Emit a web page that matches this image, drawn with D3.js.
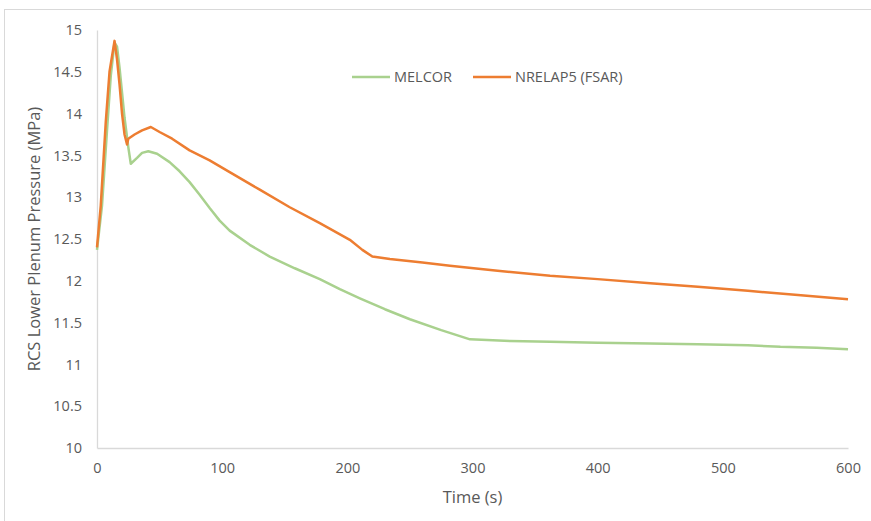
<!DOCTYPE html>
<html>
<head>
<meta charset="utf-8">
<script src="https://cdn.jsdelivr.net/npm/d3@7"></script>
<style>
  body { margin: 0; background: #fff; }
  text { font-family: "Open Sans", "Liberation Sans", sans-serif; fill: #595959; }
</style>
</head>
<body>
<div id="chart"></div>
<script>
// Chart area
var svgWidth = 871;
var svgHeight = 521;
var chartMargin = { top: 30, right: 23, bottom: 73, left: 97 };
var chartWidth = svgWidth - chartMargin.left - chartMargin.right;
var chartHeight = svgHeight - chartMargin.top - chartMargin.bottom;

// Data (time in s, pressure in MPa)
var melcorTime = [0, 4, 8, 11, 14, 16, 18, 20, 22, 25, 27, 32, 36, 41, 48, 58, 66, 74, 82, 90, 98, 106, 122, 138, 158, 178, 194, 210, 230, 250, 275, 298, 330, 362, 400, 442, 480, 520, 546, 575, 600];
var melcorP = [12.37, 12.9, 13.8, 14.45, 14.85, 14.8, 14.55, 14.25, 13.95, 13.6, 13.4, 13.47, 13.53, 13.55, 13.52, 13.42, 13.31, 13.18, 13.03, 12.87, 12.72, 12.6, 12.43, 12.29, 12.15, 12.02, 11.9, 11.79, 11.66, 11.54, 11.41, 11.3, 11.28, 11.27, 11.26, 11.25, 11.24, 11.23, 11.21, 11.2, 11.18];

var nrelapTime = [0, 3, 7, 10, 14, 16, 18, 20, 22, 24, 25, 30, 36, 43, 50, 60, 74, 90, 106, 130, 154, 178, 202, 212, 220, 234, 260, 282, 320, 362, 400, 442, 480, 520, 560, 600];
var nrelapP = [12.4, 12.9, 13.9, 14.5, 14.87, 14.65, 14.35, 14.0, 13.75, 13.63, 13.7, 13.75, 13.8, 13.84, 13.78, 13.7, 13.56, 13.44, 13.3, 13.09, 12.88, 12.69, 12.49, 12.37, 12.29, 12.26, 12.22, 12.18, 12.12, 12.06, 12.02, 11.97, 11.93, 11.88, 11.83, 11.78];

var xTicks = [0, 100, 200, 300, 400, 500, 600];
var yTicks = [10, 10.5, 11, 11.5, 12, 12.5, 13, 13.5, 14, 14.5, 15];

var seriesNames = ["MELCOR", "NRELAP5 (FSAR)"];
var seriesColors = ["#a9d18e", "#ed7d31"];

var svg = d3.select("#chart")
            .append("svg")
            .attr("width", svgWidth)
            .attr("height", svgHeight);

// outer chart border
svg.append("rect")
   .attr("x", 4.5)
   .attr("y", 9.5)
   .attr("width", svgWidth + 10)
   .attr("height", svgHeight + 10)
   .attr("fill", "none")
   .attr("stroke", "#d9d9d9");

var chartGroup = svg.append("g")
                    .attr("transform", `translate(${chartMargin.left}, ${chartMargin.top})`);

var xScale = d3.scaleLinear().domain([0, 600]).range([0, chartWidth]);
var yScale = d3.scaleLinear().domain([10, 15]).range([chartHeight, 0]);

var bottomAxis = d3.axisBottom(xScale).tickValues(xTicks).tickSize(0).tickPadding(15);
var leftAxis = d3.axisLeft(yScale).tickValues(yTicks).tickSize(0).tickPadding(15)
                 .tickFormat(d => d3.format("")(d));

var xAxis = chartGroup.append("g")
                      .attr("transform", `translate(0, ${chartHeight})`)
                      .call(bottomAxis);
var yAxis = chartGroup.append("g").call(leftAxis);

[xAxis, yAxis].forEach(function(ax) {
    ax.select(".domain").attr("stroke", "#d9d9d9").attr("stroke-width", 1.3);
    ax.selectAll("text").attr("font-size", "14.5px").attr("fill", "#595959")
      .style("font-family", "'Open Sans', sans-serif");
});

var line = d3.line()
             .x(d => xScale(d[0]))
             .y(d => yScale(d[1]));

var melcorData = melcorTime.map((t, i) => [t, melcorP[i]]);
var nrelapData = nrelapTime.map((t, i) => [t, nrelapP[i]]);

chartGroup.append("path")
          .datum(melcorData)
          .attr("d", line)
          .attr("fill", "none")
          .attr("stroke", seriesColors[0])
          .attr("stroke-width", 2.5)
          .attr("stroke-linejoin", "round");

chartGroup.append("path")
          .datum(nrelapData)
          .attr("d", line)
          .attr("fill", "none")
          .attr("stroke", seriesColors[1])
          .attr("stroke-width", 2.5)
          .attr("stroke-linejoin", "round");

// legend
var legendX = [352, 473];
seriesNames.forEach(function(name, i) {
    var g = svg.append("g").attr("transform", `translate(${legendX[i]}, 77)`);
    g.append("line")
     .attr("x1", 0).attr("x2", 38)
     .attr("stroke", seriesColors[i])
     .attr("stroke-width", 2.5);
    g.append("text")
     .attr("x", 42)
     .attr("dy", "0.35em")
     .attr("font-size", "14.5px")
     .text(name);
});

// axis titles
chartGroup.append("text")
          .attr("x", chartWidth / 2)
          .attr("y", chartHeight + 55)
          .attr("text-anchor", "middle")
          .attr("font-size", "16.5px")
          .text("Time (s)");

chartGroup.append("text")
          .attr("transform", "rotate(-90)")
          .attr("x", 0 - chartHeight / 2)
          .attr("y", 0 - chartMargin.left + 40)
          .attr("text-anchor", "middle")
          .attr("font-size", "16.5px")
          .text("RCS Lower Plenum Pressure (MPa)");
</script>
</body>
</html>
